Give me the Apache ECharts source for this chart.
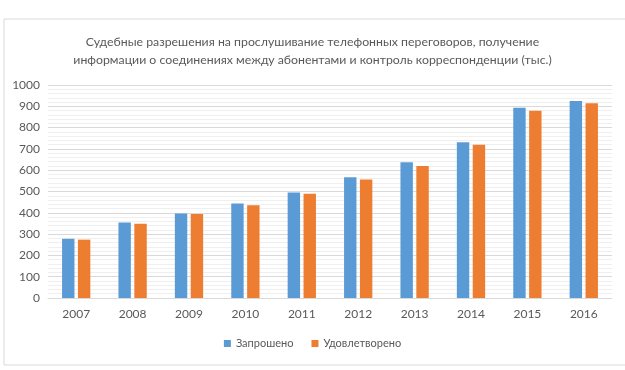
<!DOCTYPE html>
<html><head><meta charset="utf-8">
<script src="https://cdn.jsdelivr.net/npm/echarts@6/dist/echarts.min.js"></script>
<style>html,body{margin:0;padding:0;background:#fff}#c{width:625px;height:370px}</style>
</head><body><div id="c"></div>
<script>
const categories = ['2007','2008','2009','2010','2011','2012','2013','2014','2015','2016'];
const requested = [278, 354, 397, 444, 495, 567, 637, 731, 893, 925];
const granted = [274, 349, 394, 435, 489, 556, 620, 720, 879, 914];
const seriesNames = ['Запрошено', 'Удовлетворено'];
const titleText = 'Судебные разрешения на прослушивание телефонных переговоров, получение\nинформации о соединениях между абонентами и контроль корреспонденции (тыс.)';
const FONT = 'Lato, sans-serif';
const chart = echarts.init(document.getElementById('c'), null, {renderer:'canvas'});
chart.setOption({
  animation: false,
  textStyle: {fontFamily: FONT},
  graphic: [{type:'rect', shape:{x:4, y:19, width:700, height:346}, style:{fill:'none', stroke:'#d9d9d9', lineWidth:1}, z:-1}],
  title: {text: titleText, left: 'center', top: 28, textStyle:{fontFamily: FONT, fontSize: 12.3, fontWeight:'normal', color:'#595959', lineHeight: 18}},
  legend: {bottom: 16, left:'center', itemWidth: 7, itemHeight: 7, itemGap: 18, icon:'rect', textStyle:{fontFamily: FONT, fontSize: 11, color:'#595959'}, data: seriesNames},
  grid: {left: 48, right: 13, top: 85, bottom: 72, containLabel: false},
  xAxis: {type:'category', data: categories, axisLine:{lineStyle:{color:'#d9d9d9'}}, axisTick:{show:false}, axisLabel:{color:'#595959', fontSize:12, margin: 10, fontFamily: FONT}},
  yAxis: {type:'value', min:0, max:1000, interval:100, axisLine:{show:false}, axisTick:{show:false},
    axisLabel:{color:'#595959', fontSize:12, margin: 8, fontFamily: FONT, formatter: v => String(v)},
    splitLine:{lineStyle:{color:'#d9d9d9'}},
    minorTick:{show:false, splitNumber:5}, minorSplitLine:{show:true, lineStyle:{color:'#efefef'}}},
  series: [
    {name: seriesNames[0], type:'bar', data: requested, barWidth: '22%', barGap: '28%', itemStyle:{color:'#5b9bd5'}},
    {name: seriesNames[1], type:'bar', data: granted, barWidth: '22%', itemStyle:{color:'#ed7d31'}}
  ]
});
</script></body></html>
